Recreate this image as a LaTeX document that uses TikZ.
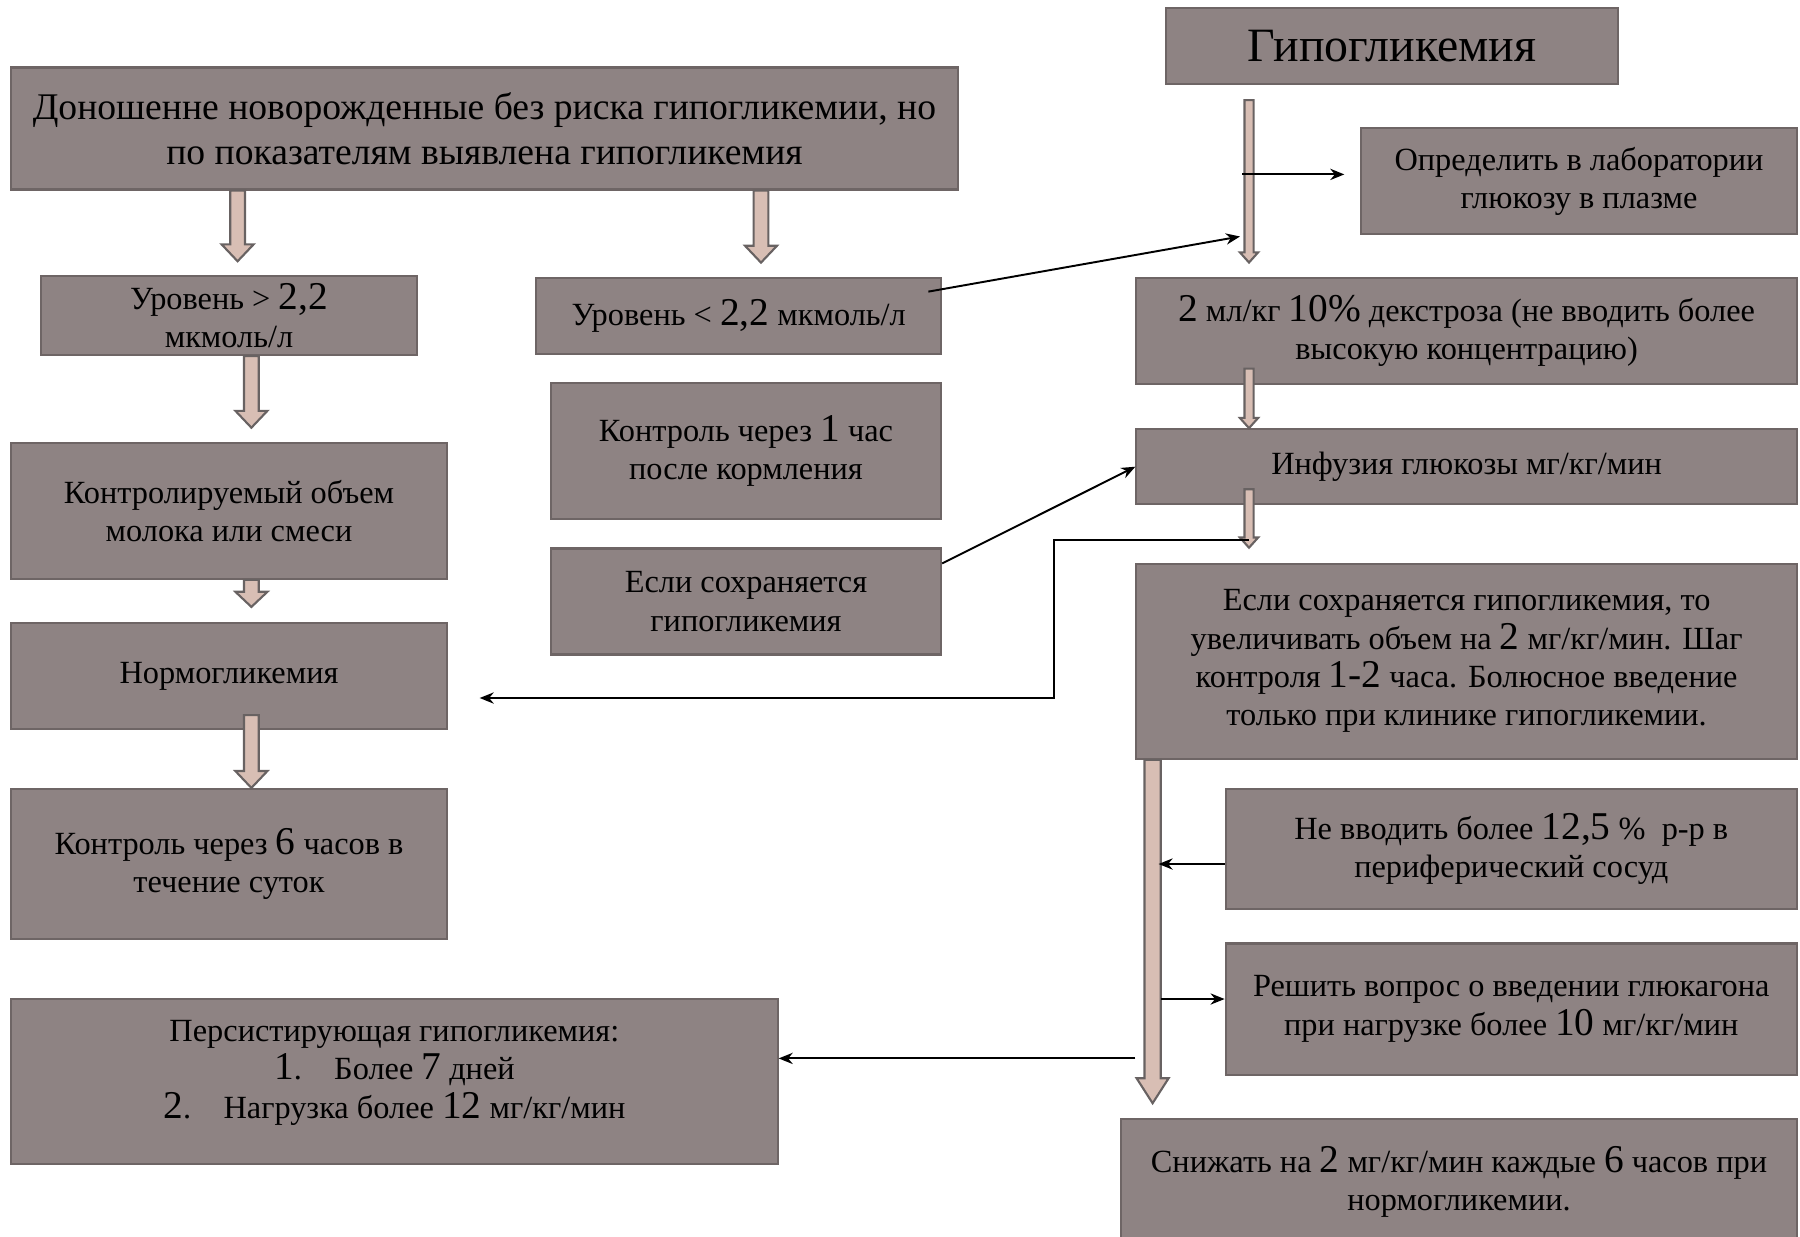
\documentclass[tikz,border=0pt]{standalone}
\usepackage{fontspec}
\setmainfont{Liberation Serif}
\usepackage{xcolor}
\usetikzlibrary{arrows.meta,calc}
\definecolor{boxfill}{HTML}{8E8383}
\definecolor{boxline}{HTML}{6E6565}
\definecolor{arrowfill}{HTML}{D8BEB4}
\definecolor{arrowline}{HTML}{686262}
% numbers are set a little larger than the words round them
\newcommand{\dg}[1]{{\fontsize{11.2}{10}\selectfont #1}}
% wide arrow pointing down: top, tip, half shaft, half head, head length
\newcommand{\blockdown}[5]{%
  \draw[blockarrow] let \p1=#1, \p2=#2 in
    (\x1-#3,\y1) -- (\x1+#3,\y1) -- (\x1+#3,\y2+#5) -- (\x1+#4,\y2+#5)
    -- (\x1,\y2) -- (\x1-#4,\y2+#5) -- (\x1-#3,\y2+#5) -- cycle;}
\tikzset{
  box/.style={draw=boxline,fill=boxfill,line width=0.6pt,align=center,inner sep=2pt,
    font=\fontsize{9.2}{10.9}\selectfont},
  blockarrow/.style={draw=arrowline,fill=arrowfill,line width=0.6pt,line join=miter},
  link/.style={-{Stealth[length=4pt,width=3.2pt]},line width=0.55pt},
}

\begin{document}
\begin{tikzpicture}[x=0.01cm,y=-0.01cm]
  \useasboundingbox (0,0) rectangle (1800,1236);

  % left part
  \node[box,minimum width=9.46cm,minimum height=1.22cm,font=\fontsize{10.7}{12.7}\selectfont] (start) at (484.5,128.5)
    {Доношенне новорожденные без риска гипогликемии, но\\по показателям выявлена гипогликемия};
  \node[box,minimum width=3.75cm,minimum height=0.76cm] (high) at (229,315.7) {Уровень > \dg{2,2}\\мкмоль/л};
  \node[box,minimum width=4.05cm,minimum height=0.76cm] (low) at (738.7,315.7) {Уровень < \dg{2,2} мкмоль/л};
  \node[box,minimum width=4.35cm,minimum height=1.36cm] (feed) at (229,510.8) {Контролируемый объем\\молока или смеси};
  \node[box,minimum width=4.35cm,minimum height=1.06cm] (norm) at (229,676) {Нормогликемия};
  \node[box,minimum width=4.35cm,minimum height=1.50cm] (check6) at (229,864) {Контроль через \dg{6} часов в\\течение суток};
  \node[box,minimum width=3.90cm,minimum height=1.36cm] (check1) at (746,451) {Контроль через \dg{1} час\\после кормления};
  \node[box,minimum width=3.90cm,minimum height=1.06cm] (still) at (746,601.5) {Если сохраняется\\гипогликемия};
  \node[box,minimum width=7.66cm,minimum height=1.65cm] (persist) at (394.4,1081.4)
    {Персистирующая гипогликемия:\\\dg{1}.\quad Более \dg{7} дней\\\dg{2}.\quad Нагрузка более \dg{12} мг/кг/мин\\[-4pt]\mbox{}};

  % right part
  \node[box,minimum width=4.51cm,minimum height=0.76cm,font=\fontsize{13.6}{16}\selectfont] (hypo) at (1392,46) {Гипогликемия};
  \node[box,minimum width=4.35cm,minimum height=1.06cm] (lab) at (1579,181.4) {Определить в лаборатории\\глюкозу в плазме};
  \node[box,minimum width=6.60cm,minimum height=1.06cm] (dextr) at (1466.6,330.6)
    {\dg{2} мл/кг \dg{10\%} декстроза (не вводить более\\высокую концентрацию)};
  \node[box,minimum width=6.60cm,minimum height=0.75cm] (infus) at (1466.6,466.7) {Инфузия глюкозы мг/кг/мин};
  \node[box,minimum width=6.60cm,minimum height=1.95cm] (raise) at (1466.6,661.3)
    {Если сохраняется гипогликемия, то\\увеличивать объем на \dg{2} мг/кг/мин. Шаг\\контроля \dg{1-2} часа. Болюсное введение\\только при клинике гипогликемии.};
  \node[box,minimum width=5.71cm,minimum height=1.20cm] (limit) at (1511.3,849)
    {Не вводить более \dg{12,5} \%\ \ р-р в\\периферический сосуд};
  \node[box,minimum width=5.71cm,minimum height=1.31cm] (glucagon) at (1511.3,1009)
    {Решить вопрос о введении глюкагона\\при нагрузке более \dg{10} мг/кг/мин};
  \node[box,minimum width=6.75cm,minimum height=1.25cm] (lower) at (1459,1181.8)
    {Снижать на \dg{2} мг/кг/мин каждые \dg{6} часов при\\нормогликемии.};

  % x positions of the wide arrows
  \coordinate (ca) at (237.6,0);
  \coordinate (cb) at (761,0);
  \coordinate (cc) at (251.4,0);
  \coordinate (sx) at (1249,0);
  \coordinate (lx) at (1152.6,0);

  \blockdown{(start.south -| ca)}{($(high.north -| ca)+(0,-14)$)}{2.1pt}{4.55pt}{4.8pt}
  \blockdown{(start.south -| cb)}{($(low.north -| cb)+(0,-14)$)}{2.1pt}{4.55pt}{4.8pt}
  \blockdown{(high.south -| cc)}{($(feed.north -| cc)+(0,-14)$)}{2.1pt}{4.55pt}{4.8pt}
  \blockdown{(feed.south -| cc)}{($(norm.north -| cc)+(0,-15)$)}{2.1pt}{4.55pt}{4.3pt}
  \blockdown{($(norm.south -| cc)+(0,-15)$)}{(check6.north -| cc)}{2.1pt}{4.55pt}{4.8pt}
  \blockdown{($(hypo.south -| sx)+(0,15)$)}{($(dextr.north -| sx)+(0,-14)$)}{1.3pt}{2.6pt}{2.9pt}
  \blockdown{($(dextr.south -| sx)+(0,-16)$)}{(infus.north -| sx)}{1.3pt}{2.6pt}{2.9pt}
  \blockdown{($(infus.south -| sx)+(0,-16)$)}{($(raise.north -| sx)+(0,-15)$)}{1.3pt}{2.6pt}{2.9pt}
  \blockdown{(raise.south -| lx)}{($(lower.north -| lx)+(0,-15)$)}{2.3pt}{4.55pt}{7.1pt}

  % thin arrows
  \draw[link] ($(sx |- lab.west)+(-7,-7)$) -- ($(lab.west)+(-16,-7)$);
  \draw[link] ($(low.north east)+(-14,15)$) -- ($(sx |- lab.south)+(-9,1)$);
  \draw[link] ($(still.north east)+(0,16)$) -- (infus.west);
  \draw[link] ($(sx |- raise.north)+(0,-23)$) -- ++(-195,0) |- ($(norm.east)+(32,22)$);
  \draw[link] ($(limit.west)+(0,15)$) -- ($(lx |- limit.west)+(6,15)$);
  \draw[link] ($(lx |- glucagon.west)+(8,-10)$) -- ($(glucagon.west)+(0,-10)$);
  \draw[link] ($(raise.west |- persist.east)+(0,-23)$) -- ($(persist.east)+(0,-23)$);
\end{tikzpicture}
\end{document}
